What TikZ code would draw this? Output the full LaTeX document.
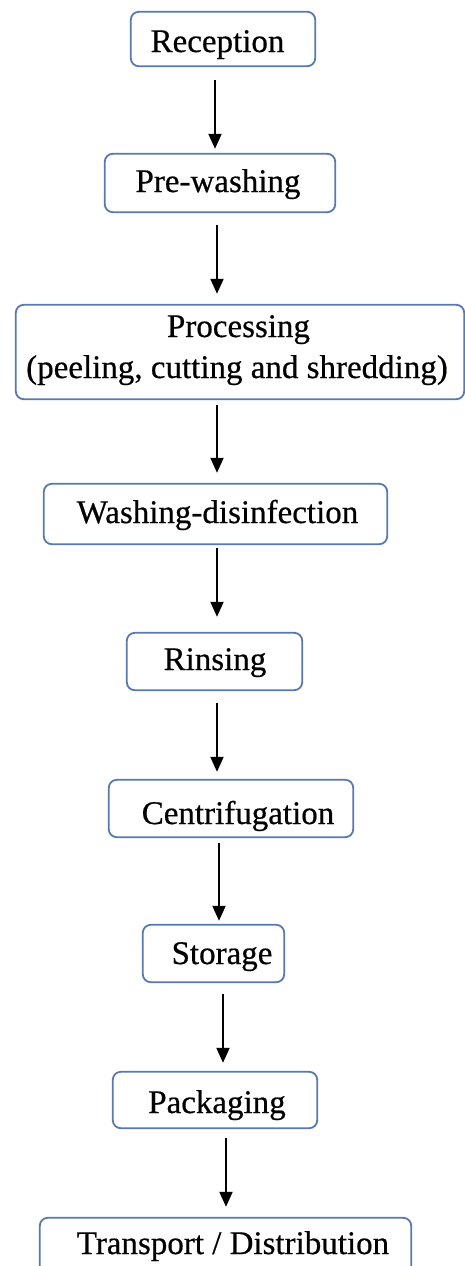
\documentclass[tikz,border=0pt]{standalone}
\usepackage{fontspec}
\setmainfont{Liberation Serif}
\newfontfamily\heavyserif{Liberation Serif}[FakeBold=0.5]
\usetikzlibrary{arrows.meta}
\definecolor{boxblue}{HTML}{5A78B0}
\begin{document}
\begin{tikzpicture}[x=1pt,y=-1pt,
  stepbox/.style={draw=boxblue,line width=1.8pt,rounded corners=8pt},
  slot/.style={draw=none,inner sep=0pt},
  lbl/.style={anchor=base,inner sep=0pt,font=\heavyserif\fontsize{33}{41}\selectfont},
  arr/.style={line width=2pt,-{Triangle[length=15pt,width=13pt]}}]
\useasboundingbox (0,0) rectangle (465,1266);
\clip (0,0) rectangle (465,1266);
\fill[white] (0,0) rectangle (465,1266);
% boxes
\node[slot,minimum width=184pt,minimum height=54pt] (b1) at (223,39) {};
\node[slot,minimum width=230pt,minimum height=58pt] (b2) at (220,183) {};
\node[slot,minimum width=448pt,minimum height=94pt] (b3) at (240,352) {};
\node[slot,minimum width=343pt,minimum height=60pt] (b4) at (215.5,514) {};
\node[slot,minimum width=175pt,minimum height=57pt] (b5) at (214.5,661.5) {};
\node[slot,minimum width=244pt,minimum height=57pt] (b6) at (231,808.5) {};
\node[slot,minimum width=141pt,minimum height=57pt] (b7) at (213.5,953.5) {};
\node[slot,minimum width=204pt,minimum height=56pt] (b8) at (215,1100) {};
\node[slot,minimum width=371pt,minimum height=70pt] (b9) at (225.5,1253) {};
\foreach \b in {b1,b2,b3,b4,b5,b6,b7,b8,b9}
  \draw[stepbox] (\b.south west) rectangle (\b.north east);
% labels
\node[lbl] (t1) at (217.5,52) {Reception};
\node[lbl] (t2) at (218,192) {Pre-washing};
\node[lbl] (t3a) at (238.5,337) {Processing};
\node[lbl] (t3b) at (237,378) {(peeling, cutting and shredding)};
\node[lbl] (t4) at (217.5,523) {Washing-disinfection};
\node[lbl] (t5) at (215,670) {Rinsing};
\node[lbl] (t6) at (238,824) {Centrifugation};
\node[lbl] (t7) at (222,964) {Storage};
\node[lbl] (t8) at (217,1113) {Packaging};
\node[lbl] (t9) at (233,1254) {Transport / Distribution};
% arrow columns
\coordinate (x1) at (215,0);
\coordinate (x2) at (217,0);
\coordinate (x3) at (217,0);
\coordinate (x4) at (217,0);
\coordinate (x5) at (217,0);
\coordinate (x6) at (219,0);
\coordinate (x7) at (223,0);
\coordinate (x8) at (226,0);
\draw[arr] ([yshift=-14pt]b1.south -| x1) -- ([yshift=5pt]b2.north -| x1);
\draw[arr] ([yshift=-13pt]b2.south -| x2) -- ([yshift=11pt]b3.north -| x2);
\draw[arr] ([yshift=-6pt]b3.south -| x3) -- ([yshift=11pt]b4.north -| x3);
\draw[arr] ([yshift=-4pt]b4.south -| x4) -- ([yshift=16pt]b5.north -| x4);
\draw[arr] ([yshift=-13pt]b5.south -| x5) -- ([yshift=8pt]b6.north -| x5);
\draw[arr] ([yshift=-6pt]b6.south -| x6) -- ([yshift=4pt]b7.north -| x6);
\draw[arr] ([yshift=-12pt]b7.south -| x7) -- ([yshift=9pt]b8.north -| x7);
\draw[arr] ([yshift=-10pt]b8.south -| x8) -- ([yshift=11pt]b9.north -| x8);
\end{tikzpicture}
\end{document}
